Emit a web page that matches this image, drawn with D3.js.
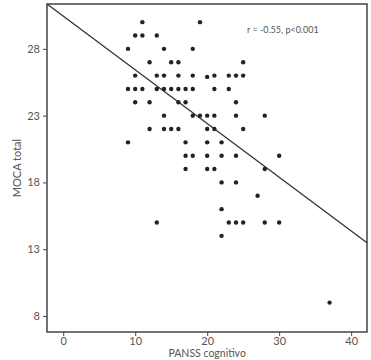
<!DOCTYPE html>
<html>
<head>
<meta charset="utf-8">
<script src="https://cdn.jsdelivr.net/npm/d3@7"></script>
<style>
  body { margin: 0; background: #fff; }
  text { font-family: Lato, "Open Sans", sans-serif; }
</style>
</head>
<body>
<div id="plot"></div>
<script>
// PANSS cognitivo (x) and MOCA total (y)
const panss = [11, 19, 10, 11, 13, 9, 14, 18, 12, 15, 16, 25,
  10, 13, 14, 16, 18, 20, 21, 23, 24, 25,
  9, 10, 11, 13, 14, 15, 16, 17, 18, 21, 23,
  10, 12, 16, 17, 24,
  14, 18, 19, 20, 21, 24, 28,
  12, 14, 15, 16, 20, 21, 25,
  9, 17, 20, 22,
  17, 18, 20, 22, 24, 30,
  17, 20, 21, 28,
  22, 24, 27, 22,
  13, 23, 24, 25, 28, 30,
  22, 37];
const moca = [30, 30, 29, 29, 29, 28, 28, 28, 27, 27, 27, 27,
  26, 26, 26, 26, 26, 25.9, 26, 26, 26, 26,
  25, 25, 25, 25, 25, 25, 25, 25, 25, 25, 25,
  24, 24, 24, 24, 24,
  23, 23, 23, 23, 23, 23, 23,
  22, 22, 22, 22, 22, 22, 22,
  21, 21, 21, 21,
  20, 20, 20, 20, 20, 20,
  19, 19, 19, 19,
  18, 18, 17, 16,
  15, 15, 15, 15, 15, 15,
  14, 9];
const xTicks = [0, 10, 20, 30, 40];
const yTicks = [8, 13, 18, 23, 28];
const fitLine = [[-2.25, 31.36], [42.2, 13.48]];
const annotation = "r = -0.55, p<0.001";

const svgWidth = 371, svgHeight = 360;
const margin = { top: 4, right: 4, bottom: 28, left: 47 };
const width = svgWidth - margin.left - margin.right;
const height = svgHeight - margin.top - margin.bottom;

const svg = d3.select("#plot").append("svg")
  .attr("width", svgWidth)
  .attr("height", svgHeight);

const g = svg.append("g")
  .attr("transform", `translate(${margin.left},${margin.top})`);

const x = d3.scaleLinear().domain([-2.25, 42.2]).range([0, width]);
const y = d3.scaleLinear().domain([6.8, 31.36]).range([height, 0]);

// axes
const xAxis = g.append("g")
  .attr("transform", `translate(0,${height})`)
  .call(d3.axisBottom(x).tickValues(xTicks).tickSize(4).tickPadding(1));
const yAxis = g.append("g")
  .call(d3.axisLeft(y).tickValues(yTicks).tickSize(4).tickPadding(3));
[xAxis, yAxis].forEach(a => {
  a.select(".domain").remove();
  a.selectAll("line").attr("stroke", "#444");
  a.selectAll("text").attr("fill", "#555").style("font-size", "11px");
});

// frame
g.append("rect")
  .attr("width", width)
  .attr("height", height)
  .attr("fill", "none")
  .attr("stroke", "#444")
  .attr("stroke-width", 1.5);

// regression line
g.append("line")
  .attr("x1", x(fitLine[0][0])).attr("y1", y(fitLine[0][1]))
  .attr("x2", x(fitLine[1][0])).attr("y2", y(fitLine[1][1]))
  .attr("stroke", "#333")
  .attr("stroke-width", 1.3);

// points
g.selectAll(".dot")
  .data(panss.map((p, i) => [p, moca[i]]))
  .enter()
  .append("circle")
  .attr("class", "dot")
  .attr("cx", d => x(d[0]))
  .attr("cy", d => y(d[1]))
  .attr("r", 2.2)
  .attr("fill", "#222");

// annotation
g.append("text")
  .attr("x", 200)
  .attr("y", 29)
  .attr("fill", "#555")
  .style("font-size", "9px")
  .text(annotation);

// axis titles
svg.append("text")
  .attr("x", margin.left + x(20))
  .attr("y", 357)
  .attr("text-anchor", "middle")
  .attr("fill", "#555")
  .style("font-size", "10.5px")
  .text("PANSS cognitivo");

svg.append("text")
  .attr("transform", "translate(21,168) rotate(-90)")
  .attr("text-anchor", "middle")
  .attr("fill", "#555")
  .style("font-size", "11px")
  .text("MOCA total");
</script>
</body>
</html>
